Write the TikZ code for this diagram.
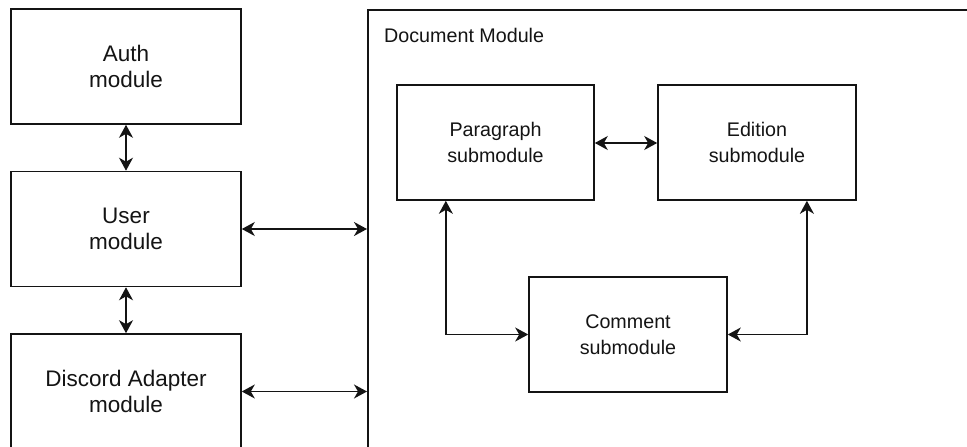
\documentclass[tikz,border=0pt]{standalone}
\usepackage{fontspec}
\setmainfont{Liberation Sans}
\usetikzlibrary{arrows.meta,calc}
\definecolor{ink}{HTML}{141414}
\tikzset{
  box/.style={draw=ink, line width=1.6pt, rectangle, align=center, text=ink},
  leftbox/.style={box, minimum width=230pt, minimum height=115pt,
    font=\fontsize{22.5}{26}\selectfont},
  subbox/.style={box, minimum width=197pt, minimum height=115pt,
    font=\fontsize{19.7}{26}\selectfont},
  link/.style={draw=ink, line width=1.5pt,
    {Stealth[length=13pt,width=14pt,inset=4pt]}-{Stealth[length=13pt,width=14pt,inset=4pt]}}
}
\begin{document}
\begin{tikzpicture}[x=1pt,y=-1pt]
\useasboundingbox (0,0) rectangle (967,447);
\fill[white] (0,0) rectangle (967,447);
\clip (0,0) rectangle (967,447);
% left column
\node[leftbox] (auth) at (126,66.5) {Auth\\module};
\node[leftbox] (user) at (126,229) {User\\module};
\node[leftbox] (discord) at (126,391.5) {Discord Adapter\\module};
% document module container
\node[draw=ink, line width=1.6pt, rectangle, anchor=north west,
  minimum width=700pt, minimum height=600pt, inner sep=0pt] (doc) at (367,9) {};
\node[anchor=base west, inner sep=0pt, text=ink,
  font=\fontsize{19.7}{24}\selectfont] (doclabel) at (384,42) {Document Module};
% submodules
\node[subbox] (para) at (495.5,142.5) {Paragraph\\submodule};
\node[subbox, minimum width=198pt] (edit) at (757,142.5) {Edition\\submodule};
\node[subbox, minimum width=198pt] (comm) at (628,334.5) {Comment\\submodule};
% connectors
\draw[link] (auth.south) -- (user.north);
\draw[link] (user.south) -- (discord.north);
\draw[link] (user.east) -- (user.east -| doc.west);
\draw[link] (discord.east) -- (discord.east -| doc.west);
\draw[link] (para.east |- 0,143) -- (edit.west |- 0,143);
\coordinate (pc) at ($(para.south west)!0.25!(para.south east)$);
\coordinate (ec) at ($(edit.south west)!0.75!(edit.south east)$);
\draw[link] (pc) |- (comm.west);
\draw[link] (ec) |- (comm.east);
\end{tikzpicture}
\end{document}
